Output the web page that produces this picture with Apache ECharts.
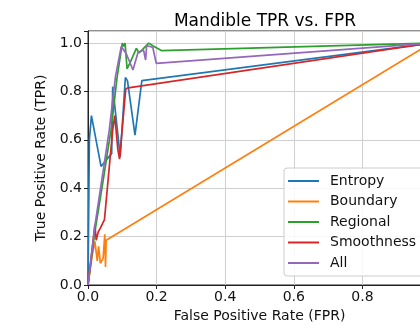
<!DOCTYPE html>
<html><head><meta charset="utf-8">
<script src="https://cdn.jsdelivr.net/npm/echarts@6/dist/echarts.min.js"></script>
<style>html,body{margin:0;padding:0;background:#fff}#c{width:420px;height:326px}</style>
</head><body><div id="c"></div>
<script>
const titleText = "Mandible TPR vs. FPR";
const xTicks = [0, 0.2, 0.4, 0.6, 0.8, 1.0];
const seriesNames = ["Entropy", "Boundary", "Regional", "Smoothness", "All"];
const colors = ["#1f77b4", "#ff7f0e", "#2ca02c", "#d62728", "#9467bd"];
const entropy = [[0,0],[0.004,0.60],[0.01,0.70],[0.038,0.49],[0.052,0.515],[0.069,0.543],[0.072,0.82],[0.094,0.53],[0.109,0.858],[0.115,0.845],[0.137,0.62],[0.157,0.845],[1,1]];
const boundary = [[0,0],[0.012,0.12],[0.02,0.18],[0.027,0.10],[0.031,0.16],[0.036,0.09],[0.044,0.11],[0.049,0.21],[0.051,0.075],[0.053,0.185],[1,1]];
const regional = [[0,0],[0.02,0.22],[0.045,0.44],[0.067,0.64],[0.085,0.86],[0.1,1.0],[0.105,0.986],[0.108,1.0],[0.114,0.893],[0.123,0.92],[0.141,0.978],[0.149,0.96],[0.16,0.975],[0.177,1.0],[0.19,0.988],[0.214,0.969],[1,1]];
const smoothness = [[0,0],[0.02,0.25],[0.024,0.185],[0.03,0.22],[0.036,0.235],[0.048,0.27],[0.062,0.487],[0.072,0.64],[0.078,0.70],[0.087,0.56],[0.092,0.52],[0.11,0.81],[0.117,0.815],[1,1]];
const allFeat = [[0,0],[0.021,0.254],[0.043,0.46],[0.062,0.64],[0.08,0.86],[0.097,0.986],[0.112,0.955],[0.131,0.889],[0.146,0.962],[0.162,0.971],[0.168,0.93],[0.171,0.99],[0.189,0.982],[0.199,0.916],[1,1]];
const seriesData = [entropy, boundary, regional, smoothness, allFeat];

const chart = echarts.init(document.getElementById('c'), null, {renderer:'canvas'});
const font = "DejaVu Sans";
chart.setOption({
  animation: false,
  backgroundColor: '#fff',
  title: { text: titleText, left: 260, textAlign: 'center', top: 8,
    textStyle: { fontFamily: font, fontSize: 17, fontWeight: 'normal', color: '#000' } },
  grid: { left: 88, top: 31, width: 343, height: 254, outerBoundsMode: 'none', containLabel: false,
    show: true, borderColor: '#222', borderWidth: 1, backgroundColor: 'transparent' },
  legend: {
    orient: 'vertical', left: 284, top: 168,
    data: seriesNames,
    icon: 'rect',
    itemWidth: 31, itemHeight: 2, itemGap: 6.5,
    padding: [6, 40, 6, 4],
    backgroundColor: 'rgba(255,255,255,0.85)', borderColor: '#ccc', borderWidth: 1, borderRadius: 3,
    textStyle: { fontFamily: font, fontSize: 14, color: '#111', padding: [0,0,0,6], lineHeight: 14 }
  },
  xAxis: {
    type: 'value', min: 0, max: 1, interval: 0.2,
    name: 'False Positive Rate (FPR)', nameLocation: 'middle', nameGap: 21,
    nameTextStyle: { fontFamily: font, fontSize: 14, color: '#111' },
    axisLine: { show: true, onZero: false, lineStyle: { color: '#222', width: 1 } },
    axisTick: { show: true, length: 4, lineStyle: { color: '#222' } },
    axisLabel: { fontFamily: font, fontSize: 14, color: '#111', margin: 5, formatter: v => v.toFixed(1) },
    splitLine: { show: true, lineStyle: { color: '#d0d0d0', width: 1 } }
  },
  yAxis: {
    type: 'value', min: 0, max: 1.05, interval: 0.2,
    name: 'True Positive Rate (TPR)', nameLocation: 'middle', nameGap: 30,
    nameTextStyle: { fontFamily: font, fontSize: 14, color: '#111' },
    axisLine: { show: true, onZero: false, lineStyle: { color: '#222', width: 1 } },
    axisTick: { show: true, length: 4, lineStyle: { color: '#222' } },
    axisLabel: { fontFamily: font, fontSize: 14, color: '#111', margin: 6, formatter: v => v > 1.001 ? '' : v.toFixed(1) },
    splitLine: { show: true, lineStyle: { color: '#d0d0d0', width: 1 } }
  },
  series: seriesNames.map((n, i) => ({
    name: n, type: 'line', data: seriesData[i], symbol: 'none', smooth: false,
    lineStyle: { color: colors[i], width: 1.7 }, itemStyle: { color: colors[i] }
  }))
});
</script></body></html>
